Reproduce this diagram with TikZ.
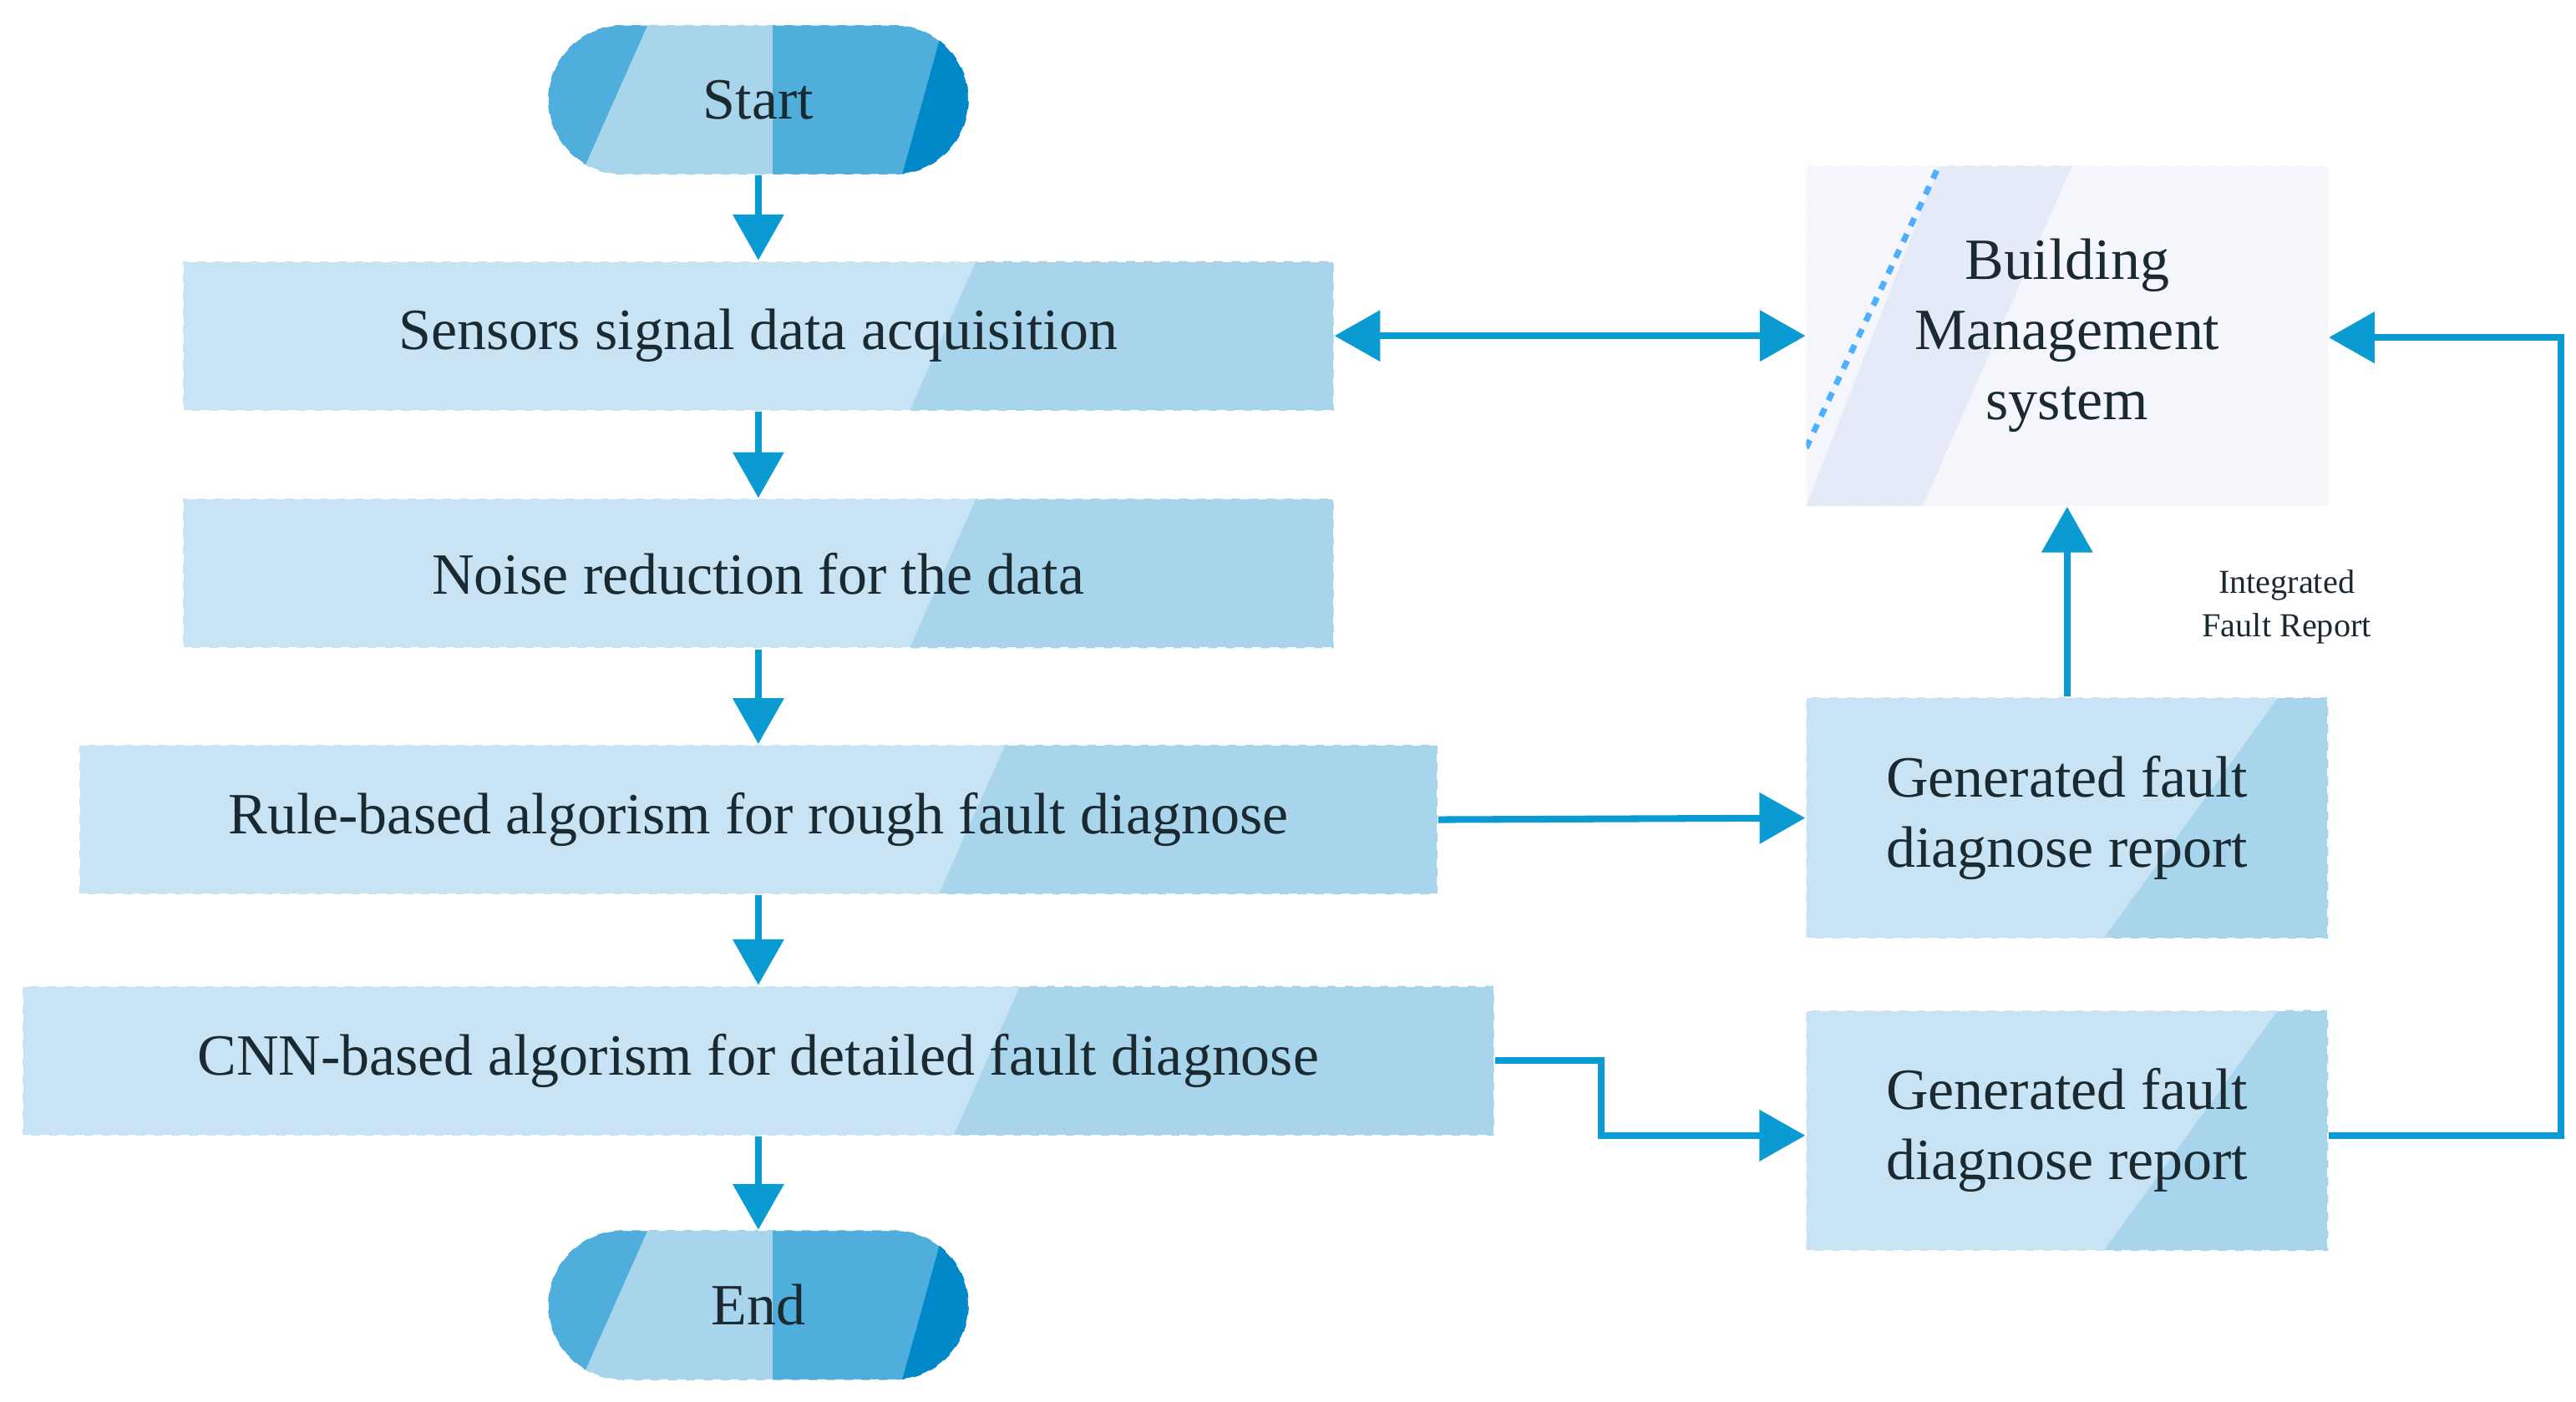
\documentclass[tikz,border=0pt]{standalone}
\usepackage{fontspec}
\setmainfont{Liberation Serif}
\usetikzlibrary{arrows.meta,shapes.misc}
\definecolor{lb}{HTML}{C8E4F4}
\definecolor{mb}{HTML}{A8D4EC}
\definecolor{sb}{HTML}{4FAEDC}
\definecolor{db}{HTML}{0088C8}
\definecolor{ac}{HTML}{0A9BD2}
\definecolor{bm}{HTML}{F4F6FC}
\definecolor{bm2}{HTML}{E4EAF8}
\definecolor{tx}{HTML}{1A2A30}
\begin{document}
\begin{tikzpicture}[x=0.02cm,y=-0.02cm,
 box/.style={draw=white,dashed,line width=0.6pt,minimum height=1.8cm,text=tx,font=\fontsize{20}{24}\selectfont,inner sep=0pt,
   path picture={\fill[lb](path picture bounding box.south west) rectangle (path picture bounding box.north east);
   \fill[mb]([xshift=-#1 cm]path picture bounding box.south east) -- ([xshift=-#1 cm+0.8cm]path picture bounding box.north east) -- (path picture bounding box.north east) -- (path picture bounding box.south east) -- cycle;}},
 rep/.style={draw=white,dashed,line width=0.6pt,minimum width=6.28cm,minimum height=2.9cm,text=tx,align=center,font=\fontsize{20}{24}\selectfont,
   path picture={\fill[lb](path picture bounding box.south west) rectangle (path picture bounding box.north east);
   \fill[mb]([xshift=-2.7cm]path picture bounding box.south east) -- ([xshift=-0.6cm]path picture bounding box.north east) -- (path picture bounding box.north east) -- (path picture bounding box.south east) -- cycle;}},
 term/.style={rounded rectangle,draw=white,dashed,minimum width=5.06cm,minimum height=1.8cm,inner sep=0pt,text=tx,font=\fontsize{20}{24}\selectfont,
   path picture={\fill[sb](path picture bounding box.south west) rectangle (path picture bounding box.north east);
   \fill[mb]([xshift=0.4cm]path picture bounding box.south west) -- ([xshift=1.2cm]path picture bounding box.north west) -- ([xshift=2.7cm]path picture bounding box.north west) -- ([xshift=2.7cm]path picture bounding box.south west) -- cycle;
   \fill[db]([xshift=-0.8cm]path picture bounding box.south east) -- ([xshift=-0.3cm]path picture bounding box.north east) -- (path picture bounding box.north east) -- (path picture bounding box.south east) -- cycle;}},
 arr/.style={line width=2.3pt,draw=ac,-{Triangle[length=0.55cm,width=0.6cm]}},
 darr/.style={line width=2.3pt,draw=ac,{Triangle[length=0.55cm,width=0.6cm]}-{Triangle[length=0.55cm,width=0.6cm]}}]
\useasboundingbox[fill=white] (0,0) rectangle (1549,843);
\node[term] (start) at (456,60) {Start};
\node[box=5.1,minimum width=13.84cm] (sens) at (456,202) {Sensors signal data acquisition};
\node[box=5.1,minimum width=13.84cm] (noise) at (456,345) {Noise reduction for the data};
\node[box=6.0,minimum width=16.34cm] (rule) at (456,493) {Rule-based algorism for rough fault diagnose};
\node[box=6.5,minimum width=17.7cm] (cnn) at (456,638) {CNN-based algorism for detailed fault diagnose};
\node[term] (end) at (456,785) {End};
\node[draw=white,dashed,minimum width=6.28cm,minimum height=4.1cm,align=center,text=tx,font=\fontsize{20}{24}\selectfont,
  path picture={\fill[bm](path picture bounding box.south west) rectangle (path picture bounding box.north east);
  \fill[bm2](path picture bounding box.south west) -- ([xshift=1.6cm]path picture bounding box.north west) -- ([xshift=3.2cm]path picture bounding box.north west) -- ([xshift=1.4cm]path picture bounding box.south west) -- cycle;
  \draw[line width=2pt,color=blue!45!cyan!70] ([yshift=0.7cm]path picture bounding box.south west) -- ([xshift=1.6cm]path picture bounding box.north west);}] (bms) at (1243,202) {Building\\Management\\system};
\node[rep] (r1) at (1243,492) {Generated fault\\diagnose report};
\node[rep] (r2) at (1243,680) {Generated fault\\diagnose report};
\node[text=tx,align=center,font=\fontsize{11.5}{15}\selectfont] (lab) at (1375,365) {Integrated\\Fault Report};
\draw[arr] (start) -- (sens);
\draw[arr] (sens) -- (noise);
\draw[arr] (noise) -- (rule);
\draw[arr] (rule) -- (cnn);
\draw[arr] (cnn) -- (end);
\draw[darr] (sens) -- (bms);
\draw[arr] (r1) -- (bms);
\draw[arr] (rule.east) -- (r1.west);
\draw[arr] (cnn.east) -- (963,638) -- (963,683) -- (r2.west |- 0,683);
\draw[arr] (r2.east |- 0,683) -- (1540,683) -- (1540,203) -- (bms.east |- 0,203);
\end{tikzpicture}
\end{document}
